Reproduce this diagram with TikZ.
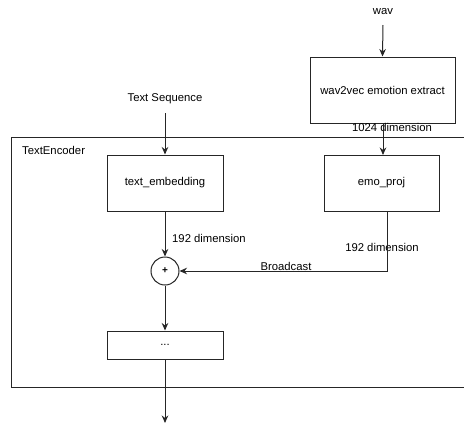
\documentclass[tikz,border=0pt]{standalone}
\usepackage{fontspec}
\setmainfont{Liberation Sans}
\usetikzlibrary{arrows.meta}
\begin{document}
\begin{tikzpicture}[x=1pt,y=-1pt,
  every node/.style={font=\fontsize{11.3}{13}\selectfont, inner sep=0pt},
  box/.style={draw=black!85, line width=1pt, rectangle},
  conn/.style={draw=black!85, line width=1pt, -{Stealth[length=7.5pt,width=6.5pt]}}]
\useasboundingbox (0,0) rectangle (464,424);
\fill[white] (0,0) rectangle (464,424);
% container
\node[box, minimum width=459pt, minimum height=250pt] (enc) at (240.5,262) {};
\node[anchor=west] (enclbl) at (22,150) {TextEncoder};
% nodes
\node (wav) at (383,12) {wav};
\node[box, minimum width=145pt, minimum height=66pt] (w2v) at (382.5,90) {wav2vec emotion extract};
\node (tseq) at (165,99) {Text Sequence};
\node[box, minimum width=116pt, minimum height=56pt] (te) at (165,183) {text\_embedding};
\node[box, minimum width=115pt, minimum height=56pt] (emo) at (381.5,183) {emo\_proj};
\node[draw=black!85, circle, line width=1pt, minimum size=28pt, font=\fontsize{10}{10}\selectfont\bfseries] (plus) at (165,271) {+};
\node[box, minimum width=116pt, minimum height=28pt] (dots) at (165,345) {...};
\coordinate (out) at (165,423);
\coordinate (bend) at (387,271);
% labels
\node (l1024) at (392,127) {1024 dimension};
\node[anchor=west] (l192a) at (172,238) {192 dimension};
\node (l192b) at (382,247) {192 dimension};
\node (lbc) at (286,266) {Broadcast};
% connectors
\draw[conn] (wav.south |- 0,25) -- (w2v.north);
\draw[conn] (383,123) -- (383,155);
\draw[conn] (tseq.south |- 0,113) -- (te.north);
\draw[conn] (te.south) -- (plus.north);
\draw[conn] (emo.south -| bend) -- (bend) -- (plus.east);
\draw[conn] (plus.south) -- (dots.north);
\draw[conn] (dots.south) -- (out);
\end{tikzpicture}
\end{document}
